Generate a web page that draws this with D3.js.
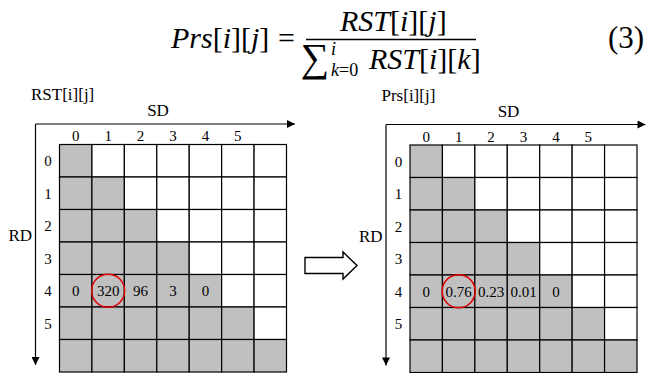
<!DOCTYPE html>
<html>
<head>
<meta charset="utf-8">
<script src="https://cdn.jsdelivr.net/npm/d3@7"></script>
<style>
  body { margin: 0; background: #fff; }
  svg { display: block; }
</style>
</head>
<body>
<script>
// grid data
const gridIdx = [0, 1, 2, 3, 4, 5, 6];          // SD columns / RD rows
const tickLabels = ["0", "1", "2", "3", "4", "5"];
const shadedPerRow = [1, 2, 3, 4, 5, 6, 7];      // grey cells from the left in each row
const valueRow = 4;
const rstValues = ["0", "320", "96", "3", "0"];
const prsValues = ["0", "0.76", "0.23", "0.01", "0"];
const circledCol = 1;

function main(){
    let width = 659, height = 373;
    let serif = "Liberation Serif";

    var svg = d3.select('body')
        .append('svg')
        .attr('width', width)
        .attr('height', height)
        .attr('font-family', serif);

    svg.append('rect').attr('width', width).attr('height', height).attr('fill', '#fff');

    var defs = svg.append('defs');
    defs.append('marker')
        .attr('id', 'head')
        .attr('viewBox', '0 0 10 10')
        .attr('refX', 10).attr('refY', 5)
        .attr('markerWidth', 9).attr('markerHeight', 8)
        .attr('markerUnits', 'userSpaceOnUse')
        .attr('orient', 'auto')
        .append('path').attr('d', 'M0,0 L10,5 L0,10 Z').attr('fill', '#000');

    // formula -----------------------------------------------------
    var f = svg.append('g').attr('font-size', 30);
    function mathText(x, y, parts, size){
        var t = f.append('text').attr('x', x).attr('y', y).attr('font-family', serif);
        if (size) t.attr('font-size', size);
        parts.forEach(function(p){
            t.append('tspan').attr('font-style', p[1] ? 'italic' : 'normal').text(p[0]);
        });
        return t;
    }
    mathText(171, 48, [['Prs',1],['[',0],['i',1],['][',0],['j',1],[']',0]]);
    f.append('text').attr('x', 278).attr('y', 48).text('=');
    mathText(340, 31, [['RST',1],['[',0],['i',1],['][',0],['j',1],[']',0]]);
    f.append('line').attr('x1', 306).attr('x2', 476).attr('y1', 39.5).attr('y2', 39.5)
        .attr('stroke', '#000').attr('stroke-width', 1.6);
    f.append('text').attr('x', 329).attr('y', 71).attr('text-anchor', 'end')
        .attr('font-size', 40).text('\u2211');
    mathText(331, 55, [['i',1]], 18);
    mathText(331, 76, [['k',1],['=0',0]], 18);
    mathText(369, 69, [['RST',1],['[',0],['i',1],['][',0],['k',1],[']',0]]);
    f.append('text').attr('x', 608).attr('y', 48).attr('font-size', 31).text('(3)');

    // panels ------------------------------------------------------
    drawPanel(svg.append('g'), 'RST[i][j]', rstValues);
    drawPanel(svg.append('g').attr('transform', 'translate(350.5,0.5)'), 'Prs[i][j]', prsValues);

    // hollow arrow between panels
    svg.append('path')
        .attr('d', 'M305,257.5 L343,257.5 L343,252 L357,265.5 L343,279 L343,273.5 L305,273.5 Z')
        .attr('fill', '#fff').attr('stroke', '#000').attr('stroke-width', 1.4);

    function drawPanel(g, title, values){
        var x = d3.scaleBand().domain(gridIdx).range([59.5, 286.5]);
        var y = d3.scaleBand().domain(gridIdx).range([144.5, 372]);

        g.append('text').attr('x', 31).attr('y', 100)
            .attr('font-size', 17).text(title);
        g.append('text').attr('x', 158).attr('y', 116).attr('text-anchor', 'middle')
            .attr('font-size', 17).text('SD');
        g.append('text').attr('x', 32).attr('y', 241).attr('text-anchor', 'end')
            .attr('font-size', 17).text('RD');

        g.append('line').attr('x1', 35.5).attr('y1', 124).attr('x2', 295).attr('y2', 124)
            .attr('stroke', '#000').attr('stroke-width', 1.2).attr('marker-end', 'url(#head)');
        g.append('line').attr('x1', 35.5).attr('y1', 124).attr('x2', 35.5).attr('y2', 365)
            .attr('stroke', '#000').attr('stroke-width', 1.2).attr('marker-end', 'url(#head)');

        // cells
        var cells = [];
        gridIdx.forEach(function(r){
            gridIdx.forEach(function(c){ cells.push({r: r, c: c}); });
        });
        g.selectAll('rect.cell')
            .data(cells)
            .enter()
            .append('rect')
            .attr('class', 'cell')
            .attr('x', function(d){return x(d.c);})
            .attr('y', function(d){return y(d.r);})
            .attr('width', x.bandwidth())
            .attr('height', y.bandwidth())
            .attr('fill', function(d){return d.c < shadedPerRow[d.r] ? '#c0c0c0' : '#fff';})
            .attr('stroke', '#000')
            .attr('stroke-width', 1.2);

        // ticks
        g.selectAll('text.col')
            .data(tickLabels)
            .enter()
            .append('text')
            .attr('class', 'col')
            .attr('x', function(d, i){return x(i) + x.bandwidth()/2;})
            .attr('y', 141)
            .attr('text-anchor', 'middle')
            .attr('font-size', 15)
            .text(function(d){return d;});
        g.selectAll('text.row')
            .data(tickLabels)
            .enter()
            .append('text')
            .attr('class', 'row')
            .attr('x', 48)
            .attr('y', function(d, i){return y(i) + y.bandwidth()/2;})
            .attr('dy', '0.35em')
            .attr('text-anchor', 'middle')
            .attr('font-size', 15)
            .text(function(d){return d;});

        // values
        g.selectAll('text.val')
            .data(values)
            .enter()
            .append('text')
            .attr('class', 'val')
            .attr('x', function(d, i){return x(i) + x.bandwidth()/2;})
            .attr('y', y(valueRow) + y.bandwidth()/2)
            .attr('dy', '0.35em')
            .attr('text-anchor', 'middle')
            .attr('font-size', 15)
            .text(function(d){return d;});

        g.append('circle')
            .attr('cx', x(circledCol) + x.bandwidth()/2)
            .attr('cy', y(valueRow) + y.bandwidth()/2)
            .attr('r', 16.5)
            .attr('fill', 'none')
            .attr('stroke', '#e00000')
            .attr('stroke-width', 1.5);
    }
}
main();
</script>
</body>
</html>
